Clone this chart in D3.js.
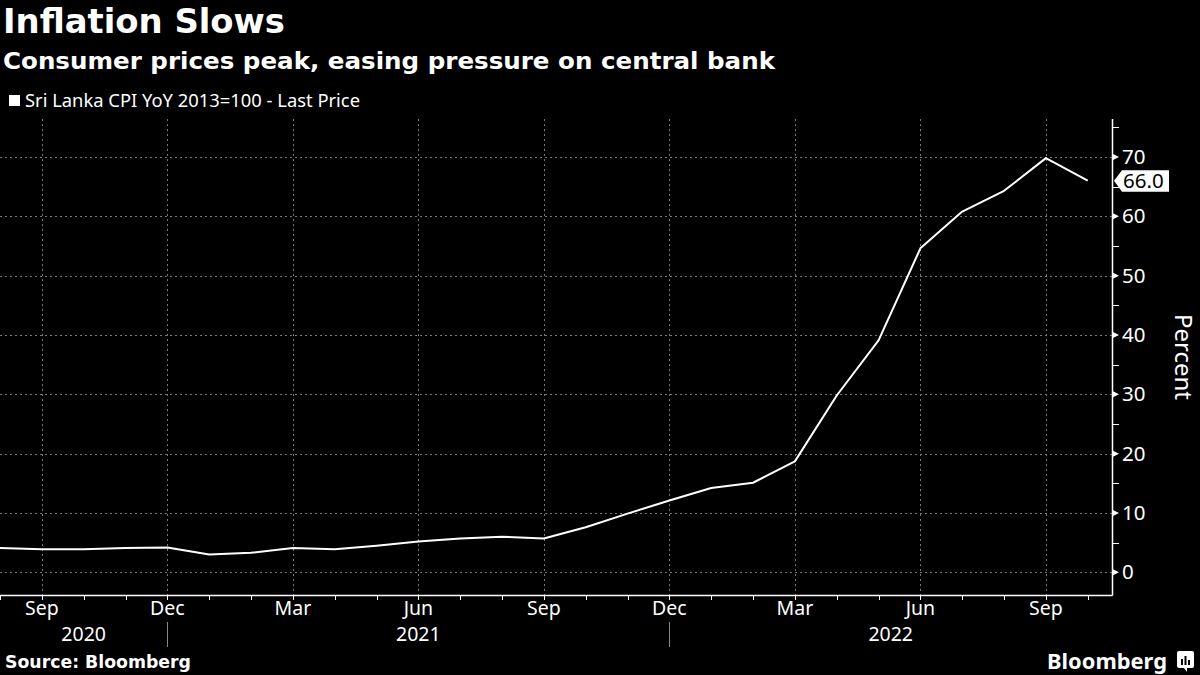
<!DOCTYPE html>
<html><head><meta charset="utf-8">
<script src="https://cdn.jsdelivr.net/npm/d3@7"></script>
<style>
html,body{margin:0;padding:0;background:#000;}
svg{display:block;}
</style></head>
<body>
<svg id="chart" width="1200" height="675"></svg>
<script>
// Monthly data, Aug 2020 .. Oct 2022 (month index 0 = Aug 2020)
const months = ["Aug 2020","Sep 2020","Oct 2020","Nov 2020","Dec 2020","Jan 2021","Feb 2021","Mar 2021","Apr 2021","May 2021","Jun 2021","Jul 2021","Aug 2021","Sep 2021","Oct 2021","Nov 2021","Dec 2021","Jan 2022","Feb 2022","Mar 2022","Apr 2022","May 2022","Jun 2022","Jul 2022","Aug 2022","Sep 2022","Oct 2022"];
const cpiValues = [4.1,3.9,3.9,4.1,4.2,3.0,3.3,4.1,3.9,4.5,5.2,5.7,6.0,5.7,7.6,9.9,12.1,14.2,15.1,18.7,29.8,39.1,54.6,60.8,64.3,69.8,66.0];
const monthTickLabels = [{i:1,t:"Sep"},{i:4,t:"Dec"},{i:7,t:"Mar"},{i:10,t:"Jun"},{i:13,t:"Sep"},{i:16,t:"Dec"},{i:19,t:"Mar"},{i:22,t:"Jun"},{i:25,t:"Sep"}];
const yearLabels = [{from:0,to:4,t:"2020"},{from:4,to:16,t:"2021"},{from:16,to:26.58,t:"2022"}];
const yearSeparators = [4,16];
const yTicks = [0,10,20,30,40,50,60,70];
const yMinorTicks = [5,15,25,35,45,55,65,75];

const svg = d3.select("#chart");
const pL = 0, pR = 1112, pT = 119, pB = 595;
const FONT = "'Noto Sans', 'DejaVu Sans', sans-serif";

const x = d3.scaleLinear().domain([0, 26.58]).range([pL, pR]);
const y = d3.scaleLinear().domain([-3.82, 76.4]).range([pB, pT]);

svg.append("rect").attr("width",1200).attr("height",675).attr("fill","#000");

// Titles
svg.append("text").attr("x",3).attr("y",33).attr("fill","#fff")
  .attr("font-family","'DejaVu Sans', sans-serif").attr("font-weight","bold").attr("font-size",33)
  .attr("textLength",282).attr("lengthAdjust","spacingAndGlyphs")
  .text("Inflation Slows");
svg.append("text").attr("x",3).attr("y",69).attr("fill","#fff")
  .attr("font-family","'DejaVu Sans', sans-serif").attr("font-weight","bold").attr("font-size",23.5)
  .attr("textLength",772).attr("lengthAdjust","spacingAndGlyphs")
  .text("Consumer prices peak, easing pressure on central bank");

// Legend
svg.append("rect").attr("x",9).attr("y",95).attr("width",11).attr("height",11).attr("fill","#fff");
svg.append("text").attr("x",25).attr("y",107).attr("fill","#fff")
  .attr("font-family",FONT).attr("font-size",17.5)
  .attr("textLength",335).attr("lengthAdjust","spacingAndGlyphs")
  .text("Sri Lanka CPI YoY 2013=100 - Last Price");

// Gridlines
const grid = svg.append("g").attr("stroke","#777").attr("stroke-width",1).attr("stroke-dasharray","2,3");
grid.selectAll("line.h").data(yTicks).join("line")
  .attr("x1",pL).attr("x2",pR).attr("y1",d=>Math.round(y(d))+0.5).attr("y2",d=>Math.round(y(d))+0.5);
grid.selectAll("line.v").data(monthTickLabels).join("line")
  .attr("x1",d=>Math.round(x(d.i))+0.5).attr("x2",d=>Math.round(x(d.i))+0.5).attr("y1",pT).attr("y2",pB);

// Axes lines
svg.append("line").attr("x1",pL).attr("x2",pR+0.5).attr("y1",pB+0.5).attr("y2",pB+0.5)
  .attr("stroke","#fff").attr("stroke-width",1.5);
svg.append("line").attr("x1",pR+0.5).attr("x2",pR+0.5).attr("y1",pT).attr("y2",pB+0.5)
  .attr("stroke","#fff").attr("stroke-width",1.5);

// X ticks (monthly)
svg.append("g").selectAll("line").data(d3.range(0,27)).join("line")
  .attr("x1",d=>Math.round(x(d))+0.5).attr("x2",d=>Math.round(x(d))+0.5)
  .attr("y1",pB).attr("y2",pB+5).attr("stroke","#fff").attr("stroke-width",1);

svg.append("g").selectAll("text").data(monthTickLabels).join("text")
  .attr("x",d=>x(d.i)).attr("y",615).attr("text-anchor","middle").attr("fill","#fff")
  .attr("font-family",FONT).attr("font-size",19.5).text(d=>d.t);

svg.append("g").selectAll("text").data(yearLabels).join("text")
  .attr("x",d=>(x(d.from)+x(d.to))/2).attr("y",641).attr("text-anchor","middle").attr("fill","#fff")
  .attr("font-family",FONT).attr("font-size",19.5).text(d=>d.t);

svg.append("g").selectAll("line").data(yearSeparators).join("line")
  .attr("x1",d=>Math.round(x(d))+0.5).attr("x2",d=>Math.round(x(d))+0.5)
  .attr("y1",622).attr("y2",647).attr("stroke","#888").attr("stroke-width",1);

// Y ticks
const yt = svg.append("g");
yt.selectAll("path").data(yTicks).join("path")
  .attr("d",d=>{const yy=y(d);return `M${pR},${yy-3.5}L${pR+7},${yy}L${pR},${yy+3.5}Z`;})
  .attr("fill","#fff");
yt.selectAll("line").data(yMinorTicks).join("line")
  .attr("x1",pR).attr("x2",pR+7).attr("y1",d=>Math.round(y(d))+0.5).attr("y2",d=>Math.round(y(d))+0.5)
  .attr("stroke","#fff").attr("stroke-width",1);
yt.selectAll("text").data(yTicks).join("text")
  .attr("x",pR+10).attr("y",d=>y(d)+7).attr("fill","#fff")
  .attr("font-family",FONT).attr("font-size",20.5).text(d=>d);

// Percent label
svg.append("text").attr("transform","translate(1175,357) rotate(90)").attr("text-anchor","middle")
  .attr("fill","#fff").attr("font-family",FONT).attr("font-size",24).text("Percent");

// Line
const line = d3.line().x((d,i)=>x(i)).y(d=>y(d));
svg.append("path").datum(cpiValues).attr("d",line).attr("fill","none")
  .attr("stroke","#fff").attr("stroke-width",2).attr("stroke-linejoin","round");

// Last value label
const lastV = cpiValues[cpiValues.length-1];
const ly = y(lastV);
svg.append("path")
  .attr("d",`M${pR+2},${ly}L${pR+10},${ly-10.5}L${pR+57},${ly-10.5}L${pR+57},${ly+11}L${pR+10},${ly+11}Z`)
  .attr("fill","#fff");
svg.append("text").attr("x",pR+11).attr("y",ly+7.5).attr("fill","#000")
  .attr("font-family",FONT).attr("font-size",20.5).text(lastV.toFixed(1));

// Footer
svg.append("text").attr("x",5).attr("y",668).attr("fill","#fff")
  .attr("font-family","'DejaVu Sans', sans-serif").attr("font-weight","bold").attr("font-size",17)
  .attr("textLength",186).attr("lengthAdjust","spacingAndGlyphs")
  .text("Source: Bloomberg");
svg.append("text").attr("x",1047).attr("y",669).attr("fill","#fff")
  .attr("font-family",FONT).attr("font-weight","bold").attr("font-size",22)
  .attr("textLength",120).attr("lengthAdjust","spacingAndGlyphs")
  .text("Bloomberg");
// small logo mark
const lg = svg.append("g").attr("transform","translate(1177,651)");
lg.append("rect").attr("width",17).attr("height",17).attr("rx",2).attr("fill","#fff");
lg.append("path").attr("d","M7,17L10,21L10,17Z").attr("fill","#fff");
lg.selectAll("rect.b").data([[4,8,2,6],[7.5,5,2,9],[11,9,2,5]]).join("rect")
  .attr("x",d=>d[0]).attr("y",d=>d[1]).attr("width",d=>d[2]).attr("height",d=>d[3]).attr("fill","#000");
</script>
</body></html>
